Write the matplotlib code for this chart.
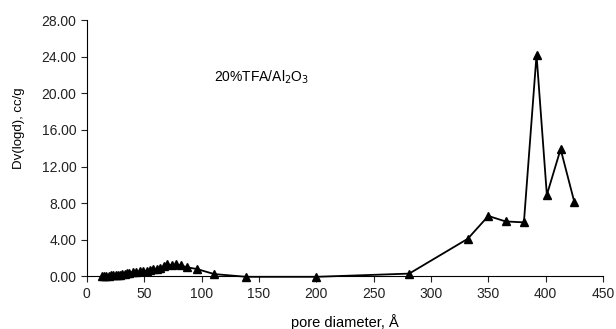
import matplotlib.pyplot as plt
import numpy as np

plt.rcParams['font.family'] = ['Liberation Sans', 'DejaVu Sans']

# pore diameter (A) and Dv(logd) (cc/g)
pore_d = [13, 15, 17, 19, 21, 23, 25, 27, 29, 31, 33, 35, 37, 40, 43, 46, 49,
          52, 55, 58, 61, 64, 67, 70, 74, 78, 82, 87, 96, 111, 139, 200, 281,
          332, 350, 365, 381, 392, 401, 413, 425]
dv = [0.0, 0.02, 0.05, 0.08, 0.1, 0.12, 0.15, 0.18, 0.2, 0.25, 0.3, 0.35, 0.4,
      0.45, 0.5, 0.55, 0.55, 0.6, 0.65, 0.75, 0.85, 0.95, 1.1, 1.3, 1.2, 1.3,
      1.2, 1.0, 0.8, 0.25, -0.05, -0.05, 0.3, 4.1, 6.6, 6.0, 5.9, 24.2, 8.9,
      13.9, 8.1]

x_ticks = [0, 50, 100, 150, 200, 250, 300, 350, 400, 450]
y_ticks = [0, 4, 8, 12, 16, 20, 24, 28]

fig = plt.figure(figsize=(6.16, 3.29), dpi=100)
ax = fig.add_axes([0.141, 0.160, 0.838, 0.779])

ax.plot(pore_d, dv, color='black', lw=1.3, marker='^', ms=6,
        markerfacecolor='black', markeredgecolor='black', clip_on=False)

ax.set_xlim(0, 450)
ax.set_ylim(0, 28)
ax.set_xticks(x_ticks)
ax.set_yticks(y_ticks)
ax.set_yticklabels(['%.2f' % v for v in y_ticks])
ax.tick_params(direction='out', length=4, width=0.8, labelsize=10, colors='#222222')

ax.spines['top'].set_visible(False)
ax.spines['right'].set_visible(False)
for s in ['left', 'bottom']:
    ax.spines[s].set_linewidth(0.8)

ax.set_xlabel('pore diameter, Å', fontsize=10.5)
ax.xaxis.set_label_coords(0.5, -0.145)
ax.set_ylabel('Dv(logd), cc/g', fontsize=9.5)
ax.yaxis.set_label_coords(-0.12, 0.58)

ax.text(111, 21.7, '20%TFA/Al$_2$O$_3$', fontsize=10, va='center')

fig.savefig('out.png', dpi=100)
